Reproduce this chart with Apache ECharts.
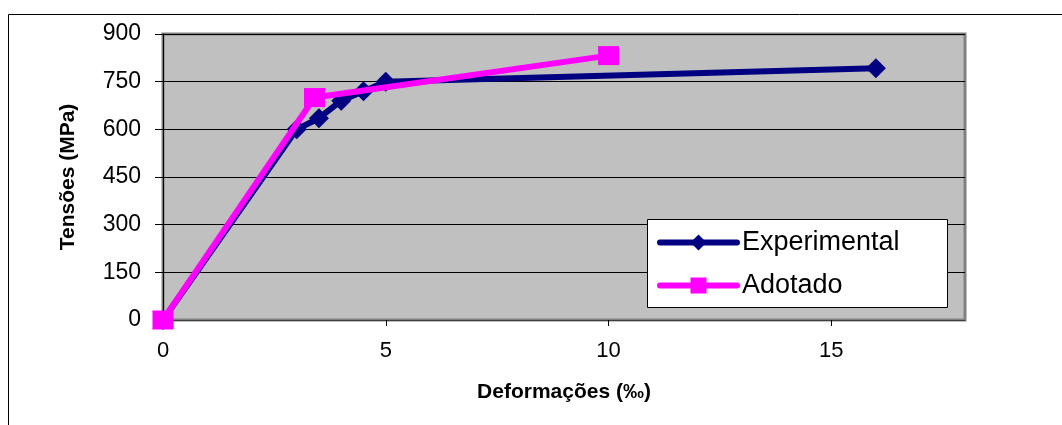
<!DOCTYPE html>
<html>
<head>
<meta charset="utf-8">
<script src="https://cdn.jsdelivr.net/npm/echarts@6/dist/echarts.min.js"></script>
<style>
html,body{margin:0;padding:0;background:#fff;}
#chart{width:1062px;height:425px;}
</style>
</head>
<body>
<div id="chart"></div>
<script>
var experimentalX = [0, 3.0, 3.5, 4.0, 4.5, 5.0, 16.0];
var experimentalY = [0, 600, 635, 690, 720, 750, 792];
var adotadoX = [0, 3.4, 10.0];
var adotadoY = [0, 700, 832];
var yTicks = [0, 150, 300, 450, 600, 750, 900];
var xTicks = [0, 5, 10, 15];
var seriesNames = ['Experimental', 'Adotado'];

function pairs(xs, ys) { return xs.map(function (x, i) { return [x, ys[i]]; }); }

var FONT = '"Liberation Sans", Arial, sans-serif';
var chart = echarts.init(document.getElementById('chart'), null, {renderer: 'canvas'});
chart.setOption({
  animation: false,
  backgroundColor: '#ffffff',
  graphic: [
    {type: 'rect', z: 0, shape: {x: 8.5, y: 14.5, width: 1200, height: 600},
     style: {fill: null, stroke: '#000', lineWidth: 1}},
    {type: 'rect', z: 4, shape: {x: 647.5, y: 219.5, width: 300, height: 88},
     style: {fill: '#ffffff', stroke: '#000', lineWidth: 1}}
  ],
  grid: {
    left: 163, top: 34, right: 97, bottom: 105,
    show: true, backgroundColor: '#C0C0C0', borderColor: '#808080', borderWidth: 3
  },
  legend: {
    z: 6,
    left: 648, top: 219,
    orient: 'vertical',
    padding: [10, 9, 9, 9],
    itemGap: 16,
    itemWidth: 77,
    itemHeight: 20,
    data: seriesNames,
    lineStyle: {width: 6, cap: 'round'},
    textStyle: {fontFamily: FONT, fontSize: 27, color: '#000'}
  },
  xAxis: {
    type: 'value', min: 0, max: 18, interval: 5,
    name: 'Deformações (‰)', nameLocation: 'middle', nameGap: 62,
    nameTextStyle: {fontFamily: FONT, fontSize: 21, fontWeight: 'bold', color: '#000'},
    axisLine: {show: true, lineStyle: {color: '#404040', width: 1}},
    axisTick: {show: true, length: 6, lineStyle: {color: '#000'}, customValues: xTicks},
    axisLabel: {fontFamily: FONT, fontSize: 22, color: '#000', margin: 20, customValues: xTicks},
    splitLine: {show: false}
  },
  yAxis: {
    type: 'value', min: 0, max: 900, interval: 150,
    name: 'Tensões (MPa)', nameLocation: 'middle', nameGap: 84,
    nameTextStyle: {fontFamily: FONT, fontSize: 21, fontWeight: 'bold', color: '#000'},
    axisLine: {show: true, lineStyle: {color: '#000', width: 1}},
    axisTick: {show: true, length: 8, lineStyle: {color: '#000'}},
    axisLabel: {fontFamily: FONT, fontSize: 23, color: '#000', margin: 22,
      formatter: function (v) { return yTicks.indexOf(v) >= 0 ? String(v) : ''; }},
    splitLine: {show: true, lineStyle: {color: '#000', width: 1}}
  },
  series: [
    {
      name: seriesNames[0], type: 'line', data: pairs(experimentalX, experimentalY),
      symbol: 'diamond', symbolSize: [20, 20],
      itemStyle: {color: '#000080'},
      lineStyle: {color: '#000080', width: 6},
      z: 3
    },
    {
      name: seriesNames[1], type: 'line', data: pairs(adotadoX, adotadoY),
      symbol: 'rect', symbolSize: [21, 19],
      itemStyle: {color: '#FF00FF'},
      lineStyle: {color: '#FF00FF', width: 6},
      z: 4
    }
  ]
});
</script>
</body>
</html>
